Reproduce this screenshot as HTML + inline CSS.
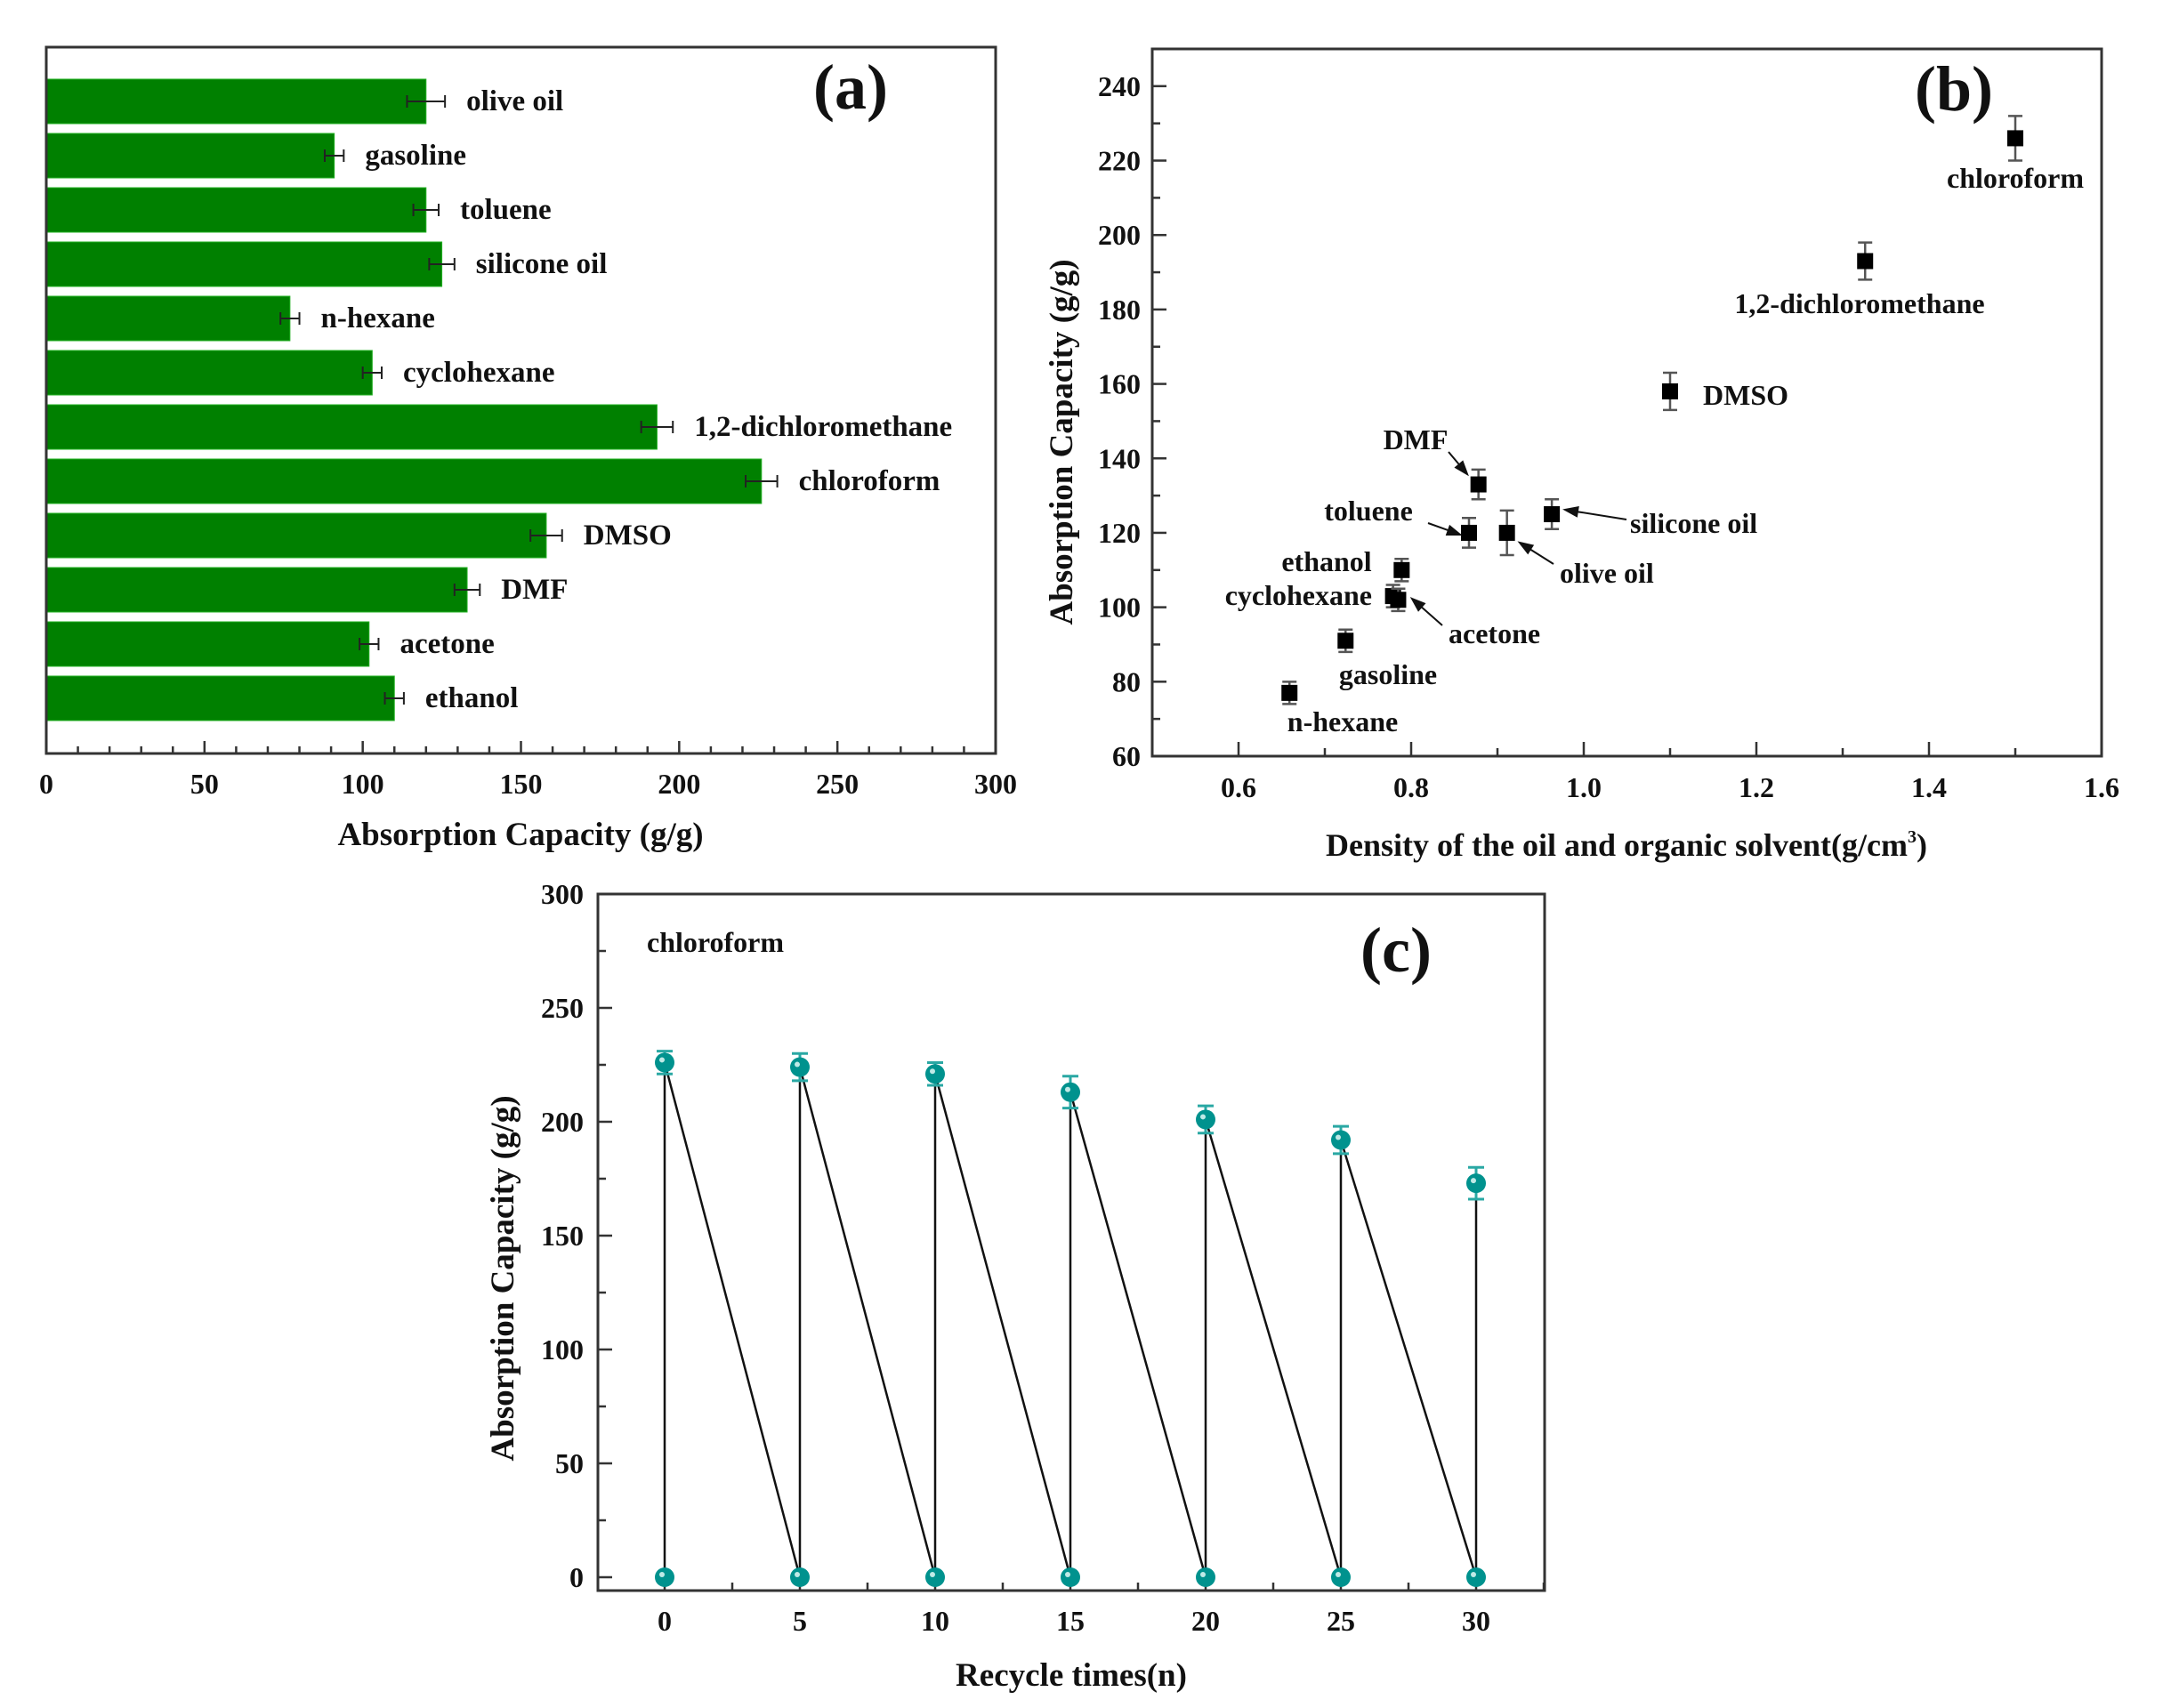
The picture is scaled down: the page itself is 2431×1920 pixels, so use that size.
<!DOCTYPE html>
<html><head><meta charset="utf-8"><style>
html,body{margin:0;padding:0;background:#fff;}
svg{display:block;font-family:"Liberation Serif",serif;font-weight:bold;}
</style></head><body>
<svg id="fig" width="2431" height="1920" viewBox="0 0 2431 1920" xmlns="http://www.w3.org/2000/svg">
<g id="pa"></g>
<g id="pb"></g>
<g id="pc"></g>
</svg>
<script>
// Panel (a)
const aSolvents = ["olive oil","gasoline","toluene","silicone oil","n-hexane","cyclohexane","1,2-dichloromethane","chloroform","DMSO","DMF","acetone","ethanol"];
const aValues = [120,91,120,125,77,103,193,226,158,133,102,110];
const aErrors = [6,3,4,4,3,3,5,5,5,4,3,3];
const aTicks = [0,50,100,150,200,250,300];
// Panel (b)
const bNames = ["n-hexane","gasoline","cyclohexane","acetone","ethanol","toluene","DMF","olive oil","silicone oil","DMSO","1,2-dichloromethane","chloroform"];
const bDensity = [0.659,0.724,0.779,0.785,0.789,0.867,0.878,0.911,0.963,1.10,1.326,1.50];
const bCapacity = [77,91,103,102,110,120,133,120,125,158,193,226];
const bErrors = [3,3,3,3,3,4,4,6,4,5,5,6];
const bXTicks = [0.6,0.8,1.0,1.2,1.4,1.6];
const bYTicks = [60,80,100,120,140,160,180,200,220,240];
// Panel (c)
const cCycles = [0,5,10,15,20,25,30];
const cValues = [226,224,221,213,201,192,173];
const cErrors = [5,6,5,7,6,6,7];
const cXTicks = [0,5,10,15,20,25,30];
const cYTicks = [0,50,100,150,200,250,300];

const NS="http://www.w3.org/2000/svg";
function mk(parent,tag,attrs,txt){const e=document.createElementNS(NS,tag);for(const k in attrs)e.setAttribute(k,attrs[k]);if(txt!==undefined)e.textContent=txt;parent.appendChild(e);return e;}

// ---------- Panel A ----------
(function(){
  const g=document.getElementById('pa');
  const L=52,R=1119,T=53,B=847;
  const xs=v=>L+(v/300)*(R-L);
  const barTop0=89,pitch=61,bh=50;
  aSolvents.forEach((s,i)=>{
    const y=barTop0+i*pitch;
    const r=mk(g,'rect',{x:L,y:y,width:xs(aValues[i])-L,height:bh,fill:'#008000',stroke:'#22b022','stroke-width':1});
    
    
    const cy=y+bh/2,x1=xs(aValues[i]-aErrors[i]),x2=xs(aValues[i]+aErrors[i]);
    const eb=mk(g,'path',{d:`M${x1},${cy}H${x2}M${x1},${cy-7}V${cy+7}M${x2},${cy-7}V${cy+7}`,stroke:'#222','stroke-width':2,fill:'none'});
    
    
    const t=mk(g,'text',{x:x2+24,y:cy+10,'font-size':33,fill:'#111'},s);
    
    
  });
  const fr=mk(g,'rect',{x:L,y:T,width:R-L,height:B-T,fill:'none',stroke:'#333','stroke-width':3});
  
  
  for(let v=0;v<=300;v+=10){const x=xs(v);const len=v%50===0?14:8;mk(g,'line',{x1:x,x2:x,y1:B,y2:B-len,stroke:'#333','stroke-width':2.5});}
  aTicks.forEach(v=>{const t=mk(g,'text',{x:xs(v),y:892,'font-size':32,'text-anchor':'middle',fill:'#111'},v);
    
    });
  const xt=mk(g,'text',{x:585,y:950,'font-size':37,'text-anchor':'middle',fill:'#111'},'Absorption Capacity (g/g)');
  
  
  const pl=mk(g,'text',{x:956,y:122,'font-size':72,'text-anchor':'middle',fill:'#111'},'(a)');
  
  
})();

// ---------- Panel B ----------
(function(){
  const g=document.getElementById('pb');
  const L=1295,R=2362,T=55,B=850;
  const xs=v=>L+(v-0.5)/1.1*(R-L);
  const ys=v=>B-(v-60)/190*(B-T);
  const fr=mk(g,'rect',{x:L,y:T,width:R-L,height:B-T,fill:'none',stroke:'#333','stroke-width':3});
  
  
  for(let v=60;v<=250;v+=10){const y=ys(v);const len=v%20===0?16:9;mk(g,'line',{x1:L,x2:L+len,y1:y,y2:y,stroke:'#333','stroke-width':2.5});}
  for(let k=6;k<=16;k++){const v=k/10;const x=xs(v);const len=k%2===0?16:9;mk(g,'line',{x1:x,x2:x,y1:B,y2:B-len,stroke:'#333','stroke-width':2.5});}
  bYTicks.forEach(v=>{const t=mk(g,'text',{x:1282,y:ys(v)+11,'font-size':32,'text-anchor':'end',fill:'#111'},v);
    
    });
  bXTicks.forEach(v=>{const t=mk(g,'text',{x:xs(v),y:896,'font-size':32,'text-anchor':'middle',fill:'#111'},v.toFixed(1));
    
    });
  const yt=mk(g,'text',{x:0,y:0,'font-size':37,'text-anchor':'middle',fill:'#111',transform:'translate(1205,497) rotate(-90)'},'Absorption Capacity (g/g)');
  
  
  const xt=mk(g,'text',{x:1828,y:962,'font-size':36,'text-anchor':'middle',fill:'#111'});
  
  
  xt.appendChild(document.createTextNode('Density of the oil and organic solvent(g/cm'));
  mk(xt,'tspan',{'font-size':20,dy:-15},'3');
  mk(xt,'tspan',{dy:15},')');
  bNames.forEach((n,i)=>{
    const x=xs(bDensity[i]),y=ys(bCapacity[i]),e=bErrors[i]*(B-T)/190;
    const eb=mk(g,'path',{d:`M${x},${y-e}V${y+e}M${x-8},${y-e}H${x+8}M${x-8},${y+e}H${x+8}`,stroke:'#555','stroke-width':2.5,fill:'none'});
    
    
    const p=mk(g,'rect',{x:x-9,y:y-9,width:18,height:18,fill:'#000'});
    
    
  });
  const labels=[["chloroform",2265,211,'middle'],["1,2-dichloromethane",2090,352,'middle'],["DMSO",1914,455,'start'],["DMF",1591,505,'middle'],["toluene",1538,585,'middle'],["silicone oil",1832,599,'start'],["olive oil",1753,655,'start'],["ethanol",1491,642,'middle'],["cyclohexane",1542,680,'end'],["acetone",1628,723,'start'],["gasoline",1560,769,'middle'],["n-hexane",1509,822,'middle']];
  labels.forEach(l=>{const t=mk(g,'text',{x:l[1],y:l[2],'font-size':32,'text-anchor':l[3],fill:'#111'},l[0]);
    
    });
  const arrows=[[1628,508,1649,533],[1605,588,1641,601],[1828,584,1759,573],[1746,634,1708,610],[1621,703,1587,673]];
  arrows.forEach(a=>{
    const [x1,y1,x2,y2]=a;const dx=x2-x1,dy=y2-y1,l=Math.hypot(dx,dy),ux=dx/l,uy=dy/l;
    const bx=x2-ux*14,by=y2-uy*14;
    const ar=mk(g,'path',{d:`M${x1},${y1}L${bx},${by}M${x2},${y2}L${bx-uy*5},${by+ux*5}L${bx+uy*5},${by-ux*5}Z`,stroke:'#111','stroke-width':2,fill:'#111'});
    
    
  });
  const pl=mk(g,'text',{x:2196,y:124,'font-size':72,'text-anchor':'middle',fill:'#111'},'(b)');
  
  
})();

// ---------- Panel C ----------
(function(){
  const g=document.getElementById('pc');
  const L=672,R=1736,T=1005,B=1788;
  const xs=v=>747+v*(1659-747)/30;
  const ys=v=>1773-v*(1773-1005)/300;
  const fr=mk(g,'rect',{x:L,y:T,width:R-L,height:B-T,fill:'none',stroke:'#333','stroke-width':3});
  
  
  for(let v=0;v<=300;v+=25){const y=ys(v);const len=v%50===0?16:9;mk(g,'line',{x1:L,x2:L+len,y1:y,y2:y,stroke:'#333','stroke-width':2.5});}
  for(let v=0;v<=32.5;v+=2.5){const x=xs(v);const len=v%5===0?16:9;mk(g,'line',{x1:x,x2:x,y1:B,y2:B-len,stroke:'#333','stroke-width':2.5});}
  cYTicks.forEach(v=>{const t=mk(g,'text',{x:656,y:ys(v)+11,'font-size':32,'text-anchor':'end',fill:'#111'},v);
    
    });
  cXTicks.forEach(v=>{const t=mk(g,'text',{x:xs(v),y:1833,'font-size':32,'text-anchor':'middle',fill:'#111'},v);
    
    });
  const yt=mk(g,'text',{x:0,y:0,'font-size':37,'text-anchor':'middle',fill:'#111',transform:'translate(577,1437) rotate(-90)'},'Absorption Capacity (g/g)');
  
  
  const xt=mk(g,'text',{x:1204,y:1895,'font-size':37,'text-anchor':'middle',fill:'#111'},'Recycle times(n)');
  
  
  let d='';
  cCycles.forEach((c,i)=>{
    const x=xs(c);
    d+=(i===0?'M':'L')+x+','+ys(0)+'L'+x+','+ys(cValues[i]);
  });
  const ln=mk(g,'path',{d:d,stroke:'#111','stroke-width':2.5,fill:'none'});
  
  
  cCycles.forEach((c,i)=>{
    const x=xs(c),y=ys(cValues[i]),e=cErrors[i]*(1773-1005)/300;
    const eb=mk(g,'path',{d:`M${x},${y-e}V${y+e}M${x-9},${y-e}H${x+9}M${x-9},${y+e}H${x+9}`,stroke:'#2aa8a4','stroke-width':3,fill:'none'});
    
    
    const p=mk(g,'circle',{cx:x,cy:y,r:11,fill:'#00928e'});
    
    
    mk(g,'circle',{cx:x-3,cy:y-3,r:3,fill:'#bfe9e6'});
    const p0=mk(g,'circle',{cx:x,cy:ys(0),r:11,fill:'#00928e'});
    
    
    mk(g,'circle',{cx:x-3,cy:ys(0)-3,r:3,fill:'#bfe9e6'});
  });
  const lb=mk(g,'text',{x:727,y:1070,'font-size':32,fill:'#111'},'chloroform');
  
  
  const pl=mk(g,'text',{x:1569,y:1092,'font-size':72,'text-anchor':'middle',fill:'#111'},'(c)');
  
  
})();
</script>
</body></html>
